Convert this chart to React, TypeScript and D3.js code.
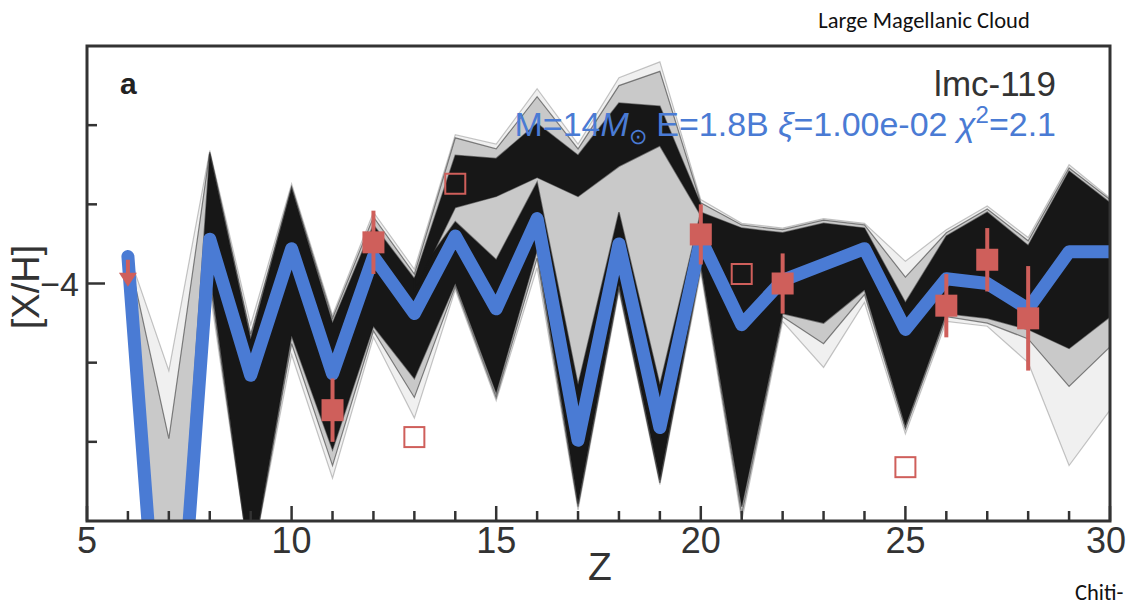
import React from 'react';
import * as d3 from 'd3';

// Atomic numbers of the model grid
const elements = [6, 7, 8, 9, 10, 11, 12, 13, 14, 15, 16, 17, 18, 19, 20, 21, 22, 23, 24, 25, 26, 27, 28, 29, 30];

// Best-fit model (blue line)
const bestFit = [-3.83, -7.25, -3.72, -4.58, -3.78, -4.57, -3.83, -4.19, -3.70, -4.16, -3.59, -4.99, -3.75, -4.91, -3.72, -4.26, -3.98, -3.88, -3.78, -4.29, -3.97, -4.0, -4.16, -3.80, -3.80];

// Dense core of the model ensemble
const coreHi = [-3.80, -6.9, -3.18, -4.35, -3.40, -4.25, -3.63, -3.97, -3.61, -3.85, -3.36, -4.64, -3.55, -4.64, -3.55, -3.65, -3.68, -3.62, -3.65, -4.12, -3.70, -3.55, -3.76, -3.29, -3.49];
const coreLo = [-3.86, -7.6, -3.93, -5.8, -4.33, -5.05, -4.27, -4.60, -4.00, -4.69, -3.79, -5.39, -4.01, -5.24, -3.88, -5.41, -4.19, -4.25, -4.04, -4.90, -4.19, -4.22, -4.29, -4.41, -4.21];

// Upper branch of the ensemble (Z = 13..20)
const upperZ = [13, 14, 15, 16, 17, 18, 19, 20];
const upperHi = [-3.97, -3.19, -3.21, -2.99, -3.19, -2.86, -2.88, -3.50];
const upperLo = [-4.05, -3.52, -3.45, -3.33, -3.45, -3.26, -3.13, -3.57];

// Medium-density envelope
const midHi = [-3.80, -4.98, -3.17, -4.32, -3.39, -4.22, -3.58, -3.94, -3.08, -3.15, -2.82, -3.15, -2.75, -2.66, -3.49, -3.63, -3.66, -3.60, -3.63, -3.96, -3.68, -3.53, -3.73, -3.27, -3.47];
const midLo = [-3.86, -7.6, -3.98, -5.8, -4.38, -5.15, -4.30, -4.72, -4.02, -4.72, -3.84, -5.41, -4.03, -5.26, -3.90, -5.46, -4.21, -4.38, -4.07, -4.92, -4.21, -4.25, -4.35, -4.65, -4.40];

// Faint outer envelope
const haloHi = [-3.80, -4.55, -3.16, -4.26, -3.37, -4.20, -3.55, -3.91, -3.06, -3.12, -2.77, -3.12, -2.70, -2.60, -3.47, -3.62, -3.65, -3.59, -3.62, -3.86, -3.66, -3.51, -3.71, -3.25, -3.46];
const haloLo = [-3.86, -7.6, -4.04, -5.8, -4.45, -5.23, -4.34, -4.85, -4.04, -4.74, -3.90, -5.43, -4.05, -5.27, -3.93, -5.5, -4.24, -4.53, -4.12, -4.95, -4.24, -4.27, -4.50, -5.15, -4.80];

// Observed abundances
const detZ = [11, 12, 20, 22, 26, 27, 28];
const detVal = [-4.80, -3.74, -3.69, -4.0, -4.14, -3.85, -4.22];
const detErr = [0.20, 0.20, 0.19, 0.19, 0.20, 0.20, 0.33];
const openZ = [13, 14, 21, 25];
const openVal = [-4.97, -3.37, -3.94, -5.16];
const limZ = [6];
const limVal = [-3.85];

const xTickLabels = [5, 10, 15, 20, 25, 30];
const xMinor = [6, 7, 8, 9, 11, 12, 13, 14, 16, 17, 18, 19, 21, 22, 23, 24, 26, 27, 28, 29];
const yMajor = [-4];
const yMinor = [-5, -4.5, -3.5, -3];

const RED = '#cf5f5b';
const BLUE = '#4a7bd4';
const AXIS = '#333333';
const FONT = '"Liberation Sans", Arial, Helvetica, sans-serif';
const CAPTION = 'Carlito, Calibri, Lato, "Open Sans", sans-serif';

export default function App() {
  const W = 1128, H = 608;
  const L = 87, R = 1110, T = 46, B = 521;
  const x = d3.scaleLinear().domain([5, 30]).range([L, R]);
  const y = d3.scaleLinear().domain([-5.5, -2.5]).range([B, T]);

  const band = (zs: number[], hi: number[], lo: number[]) =>
    d3.area<number>()
      .x((_, i) => x(zs[i]))
      .y0((_, i) => y(lo[i]))
      .y1((_, i) => y(hi[i]))(hi) || '';

  const path = (vals: number[]) =>
    d3.line<number>().x((_, i) => x(elements[i])).y((d) => y(d))(vals) || '';

  const edges = [haloHi, haloLo, midHi, midLo];

  return (
    <svg width={W} height={H} style={{ position: 'absolute', left: 0, top: 0, background: '#fff' }}>
      <defs>
        <clipPath id="plot">
          <rect x={L} y={T} width={R - L} height={B - T} />
        </clipPath>
      </defs>
      <rect x={0} y={0} width={W} height={H} fill="#fff" />

      <g clipPath="url(#plot)">
        <path d={band(elements, haloHi, haloLo)} fill="#000" fillOpacity={0.06} />
        <path d={band(elements, midHi, midLo)} fill="#000" fillOpacity={0.16} />
        {edges.map((e, i) => (
          <path key={'e' + i} d={path(e)} fill="none" stroke="#000" strokeOpacity={i < 2 ? 0.22 : 0.45} strokeWidth={1.2} />
        ))}
        <path d={band(elements, coreHi, coreLo)} fill="#171717" stroke="#171717" strokeOpacity={0.5} strokeWidth={1.5} />
        <path d={band(upperZ, upperHi, upperLo)} fill="#171717" stroke="#171717" strokeOpacity={0.5} strokeWidth={1.5} />
        <path d={path(bestFit)} fill="none" stroke={BLUE} strokeWidth={13} strokeLinejoin="round" strokeLinecap="round" />

        {detZ.map((z, i) => (
          <g key={'d' + z}>
            <line x1={x(z)} x2={x(z)} y1={y(detVal[i] + detErr[i])} y2={y(detVal[i] - detErr[i])} stroke={RED} strokeWidth={4} />
            <rect x={x(z) - 11} y={y(detVal[i]) - 11} width={22} height={22} fill={RED} />
          </g>
        ))}
        {openZ.map((z, i) => (
          <rect key={'o' + z} x={x(z) - 10} y={y(openVal[i]) - 10} width={20} height={20} fill="none" stroke={RED} strokeWidth={2} />
        ))}
        {limZ.map((z, i) => {
          const cx = x(z), cy = y(limVal[i]);
          return (
            <g key={'l' + z}>
              <line x1={cx} x2={cx} y1={cy} y2={cy + 16} stroke={RED} strokeWidth={4} />
              <path d={`M${cx - 9},${cy + 13} L${cx + 9},${cy + 13} L${cx},${cy + 27} Z`} fill={RED} />
            </g>
          );
        })}
      </g>

      {/* frame */}
      <rect x={L} y={T} width={R - L} height={B - T} fill="none" stroke={AXIS} strokeWidth={3} />

      {/* ticks */}
      {xTickLabels.map((t) => (
        <line key={'xt' + t} x1={x(t)} x2={x(t)} y1={B} y2={B - 15} stroke={AXIS} strokeWidth={2.5} />
      ))}
      {xMinor.map((t) => (
        <line key={'xm' + t} x1={x(t)} x2={x(t)} y1={B} y2={B - 10} stroke={AXIS} strokeWidth={2.5} />
      ))}
      {yMajor.map((t) => (
        <line key={'yt' + t} x1={L} x2={L + 18} y1={y(t)} y2={y(t)} stroke={AXIS} strokeWidth={2.5} />
      ))}
      {yMinor.map((t) => (
        <line key={'ym' + t} x1={L} x2={L + 10} y1={y(t)} y2={y(t)} stroke={AXIS} strokeWidth={2.5} />
      ))}

      {/* tick labels */}
      {xTickLabels.map((t, i) => {
        const last = i === xTickLabels.length - 1;
        return (
          <text key={'xl' + t} x={last ? W - 2 : x(t)} y={553} textAnchor={last ? 'end' : 'middle'} fontFamily={FONT} fontSize={36} fill={AXIS}>{t}</text>
        );
      })}
      {yMajor.map((t) => (
        <text key={'yl' + t} x={79} y={y(t) + 12} textAnchor="end" fontFamily={FONT} fontSize={34} fill={AXIS}>{'\u2212' + Math.abs(t)}</text>
      ))}

      {/* axis titles */}
      <text x={600} y={580} textAnchor="middle" fontFamily={FONT} fontSize={39} fill={AXIS}>Z</text>
      <text transform="translate(39,287) rotate(-90)" textAnchor="middle" fontFamily={FONT} fontSize={38} fill={AXIS}>[X/H]</text>

      {/* panel annotations */}
      <text x={120} y={94} fontFamily={FONT} fontSize={30} fontWeight="bold" fill="#222">a</text>
      <text x={1056} y={96} textAnchor="end" fontFamily={FONT} fontSize={35} fill={AXIS}>lmc-119</text>
      <text x={1056} y={136} textAnchor="end" fontFamily={FONT} fontSize={34} fill={BLUE}>
        M=14<tspan fontStyle="italic">M</tspan>
        <tspan fontSize={22} dy={8}>{'\u2299'}</tspan>
        <tspan dy={-8}>{' E=1.8B '}</tspan>
        <tspan fontStyle="italic">{'\u03BE'}</tspan>
        <tspan>{'=1.00e-02 '}</tspan>
        <tspan fontStyle="italic">{'\u03C7'}</tspan>
        <tspan fontSize={24} dy={-13}>2</tspan>
        <tspan dy={13}>=2.1</tspan>
      </text>

      {/* outer captions */}
      <text x={924} y={28} textAnchor="middle" fontFamily={CAPTION} fontSize={22.5} fill="#111">Large Magellanic Cloud</text>
      <text x={1075} y={600} fontFamily={CAPTION} fontSize={22.5} fill="#111">Chiti-</text>
    </svg>
  );
}
